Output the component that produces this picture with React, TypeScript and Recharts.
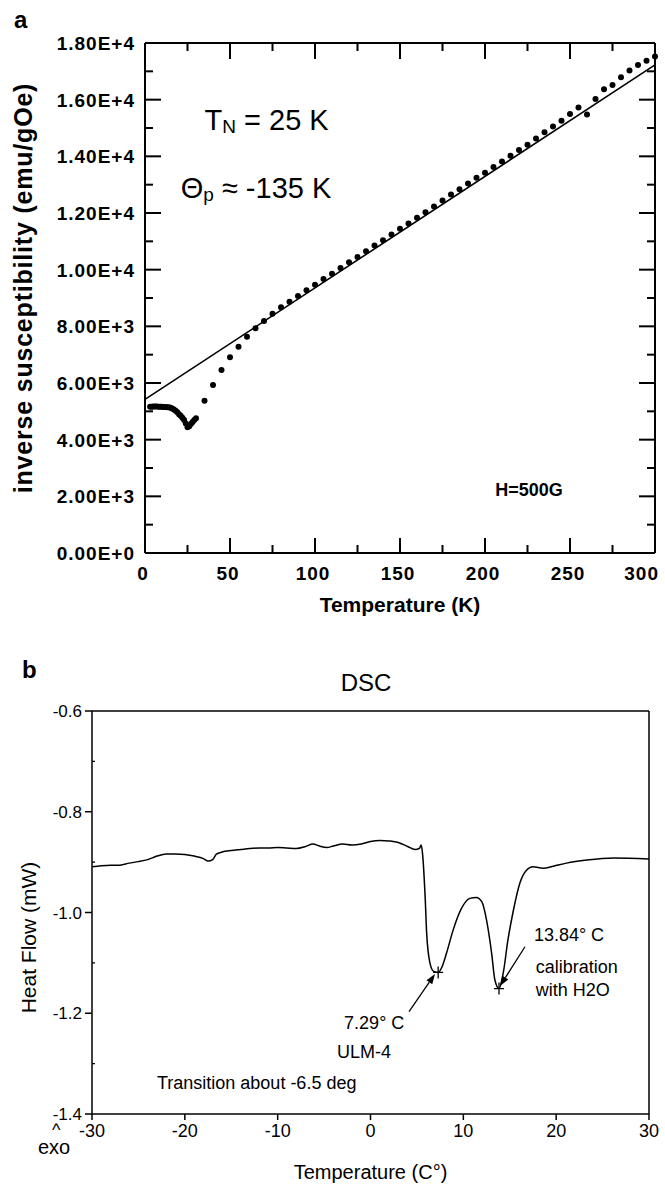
import React from 'react';
import {
  ComposedChart,
  Line,
  Scatter,
  XAxis,
  YAxis,
  ReferenceDot,
  ReferenceLine,
} from 'recharts';

const FONT = '"Liberation Sans", Arial, Helvetica, sans-serif';

// ---------- panel a: inverse susceptibility ----------
const lowTemp = [3, 4, 5, 6, 7, 8, 9, 10, 11, 12, 13, 14, 15, 16, 17, 18, 19, 20, 21, 22, 23, 24, 25, 26, 27, 28, 29, 30];
const lowChi = [
  5160, 5165, 5170, 5170, 5170, 5165, 5165, 5160, 5155, 5150, 5145, 5140, 5125, 5100,
  5065, 5020, 4965, 4900, 4840, 4770, 4690, 4570, 4440, 4470, 4550, 4620, 4690, 4760,
];
const highTemp = [
  35, 40, 45, 50, 55, 60, 65, 70, 75, 80, 85, 90, 95, 100, 105, 110, 115, 120, 125, 130,
  135, 140, 145, 150, 155, 160, 165, 170, 175, 180, 185, 190, 195, 200, 205, 210, 215, 220,
  225, 230, 235, 240, 245, 250, 255, 260, 265, 270, 275, 280, 285, 290, 295, 300,
];
const highChi = [
  5370, 5930, 6460, 6910, 7280, 7630, 7930, 8190, 8440, 8670, 8870, 9070, 9270, 9470, 9670,
  9860, 10060, 10260, 10450, 10650, 10850, 11040, 11240, 11440, 11630, 11830, 12030, 12230,
  12440, 12650, 12840, 13040, 13240, 13420, 13620, 13820, 14020, 14220, 14410, 14630, 14850,
  15050, 15260, 15490, 15720, 15480, 16020, 16370, 16520, 16790, 17030, 17220, 17370, 17520,
];
// Curie-Weiss fit line
const fitTemp = [0, 300];
const fitChi = [5420, 17230];

const aXTicks = [0, 25, 50, 75, 100, 125, 150, 175, 200, 225, 250, 275, 300];
const aXMajor = [0, 50, 100, 150, 200, 250, 300];
const aYTicks = [0, 1000, 2000, 3000, 4000, 5000, 6000, 7000, 8000, 9000, 10000, 11000, 12000, 13000, 14000, 15000, 16000, 17000, 18000];
const aYMajor = [0, 2000, 4000, 6000, 8000, 10000, 12000, 14000, 16000, 18000];
const aYLabels = ['0.00E+0', '2.00E+3', '4.00E+3', '6.00E+3', '8.00E+3', '1.00E+4', '1.20E+4', '1.40E+4', '1.60E+4', '1.80E+4'];

// ---------- panel b: DSC ----------
const dscTemp = [
  -30, -29, -28, -27, -26, -25, -24, -23, -22, -21, -20, -19, -18, -17.5, -17, -16.6, -16,
  -15, -14, -13, -12, -11, -10, -9, -8, -7, -6.2, -5.5, -4.7, -4, -3, -2, -1, 0, 1, 2, 3, 4,
  4.8, 5.3, 5.45, 5.6, 5.9, 6.05, 6.4, 6.8, 7.29, 7.7, 8.2, 8.9, 9.8, 10.7, 11.4, 12, 12.5,
  13.05, 13.4, 13.84, 14.3, 14.8, 15.4, 16.1, 16.8, 17.5, 18.6, 19.7, 21.1, 23.3, 26.2, 30,
];
const dscFlow = [
  -0.909, -0.907, -0.906, -0.906, -0.902, -0.899, -0.895, -0.888, -0.884, -0.884, -0.885,
  -0.888, -0.893, -0.898, -0.895, -0.884, -0.88, -0.877, -0.875, -0.873, -0.872, -0.872,
  -0.871, -0.872, -0.873, -0.869, -0.864, -0.868, -0.871, -0.868, -0.864, -0.866, -0.864,
  -0.859, -0.857, -0.858, -0.861, -0.869, -0.875, -0.872, -0.866, -0.882, -0.975, -1.041,
  -1.1, -1.117, -1.119, -1.108, -1.08, -1.035, -0.992, -0.972, -0.97, -0.979, -1.015, -1.081,
  -1.134, -1.151, -1.12, -1.055, -0.995, -0.941, -0.916, -0.909, -0.912, -0.908, -0.902,
  -0.896, -0.892, -0.894,
];
const bXTicks = [-30, -20, -10, 0, 10, 20, 30];
const bYMinor = [-1.3, -1.1, -0.9, -0.7];
const bYMajor = [-1.4, -1.2, -1.0, -0.8, -0.6];
const bYLabels = ['-1.4', '-1.2', '-1.0', '-0.8', '-0.6'];
const peakTemp = [7.29, 13.84];
const peakFlow = [-1.119, -1.151];

const aPoints = [
  ...lowTemp.map((t, i) => ({ t, chi: lowChi[i] })),
  ...highTemp.map((t, i) => ({ t, chi: highChi[i] })),
];
const aFit = fitTemp.map((t, i) => ({ t, chi: fitChi[i] }));
const dscData = dscTemp.map((t, i) => ({ t, flow: dscFlow[i] }));

const black = '#000';
const isBMajor = (v: number) => bYMajor.findIndex((m) => Math.abs(m - v) < 1e-6);

// inward tick marks of panel a, as scatter points on the axis lines
const aMarks = [
  ...aYTicks.map((v) => ({ t: 0, chi: v, dir: 'h', len: aYMajor.includes(v) ? 16 : 8 })),
  ...aYTicks.map((v) => ({ t: 300, chi: v, dir: 'h', len: aYMajor.includes(v) ? -16 : -8 })),
  ...aXTicks.map((t) => ({ t, chi: 0, dir: 'v', len: aXMajor.includes(t) ? -15 : -8 })),
  ...aXTicks.map((t) => ({ t, chi: 18000, dir: 'v', len: aXMajor.includes(t) ? 16 : 8 })),
];
// small inward minor marks of panel b
const bMarks = bYMinor.map((v) => ({ t: -30, flow: v, dir: 'h', len: 3 }));

const markShape = (w: number) => (p: any) => {
  const dir = p.dir ?? p.payload?.dir;
  const len = Number(p.len ?? p.payload?.len ?? 0);
  const cx = Number(p.cx);
  const cy = Number(p.cy);
  if (dir === 'h') {
    return <rect x={len > 0 ? cx : cx + len} y={cy - w / 2} width={Math.abs(len)} height={w} fill={black} />;
  }
  return <rect x={cx - w / 2} y={len > 0 ? cy : cy + len} width={w} height={Math.abs(len)} fill={black} />;
};

// ---- tick labels ----
const ALeftTick = (props: any) => {
  const { x, y, payload } = props;
  const i = aYMajor.indexOf(payload.value);
  if (i < 0) return <g />;
  return (
    <text x={Number(x) - 10} y={Number(y) + 7} textAnchor="end" fontSize={19} letterSpacing={1} fontWeight="bold" fontFamily={FONT} fill={black} stroke="none">
      {aYLabels[i]}
    </text>
  );
};
const ABottomTick = (props: any) => {
  const { x, y, payload } = props;
  if (aXMajor.indexOf(payload.value) < 0) return <g />;
  const last = payload.value === 300;
  return (
    <text
      x={Number(x) + (last ? 4 : -2)}
      y={Number(y) + 27}
      textAnchor={last ? 'end' : 'middle'}
      fontSize={19}
      letterSpacing={1}
      fontWeight="bold"
      fontFamily={FONT}
      fill={black}
      stroke="none"
    >
      {payload.value}
    </text>
  );
};
// panel b uses the built-in outward tick lines (7px left, 6px bottom)
const BLeftTick = (props: any) => {
  const { x, y, payload } = props;
  const i = isBMajor(payload.value);
  if (i < 0) return <g />;
  return (
    <text x={Number(x) - 3} y={Number(y) + 6} textAnchor="end" fontSize={17} fontFamily={FONT} fill={black} stroke="none">
      {bYLabels[i]}
    </text>
  );
};
const BBottomTick = (props: any) => {
  const { x, y, payload } = props;
  return (
    <text x={Number(x)} y={Number(y) + 17} textAnchor="middle" fontSize={18} fontFamily={FONT} fill={black} stroke="none">
      {payload.value}
    </text>
  );
};

const Arrow = (p: any) => {
  const x1 = Number(p.x1);
  const y1 = Number(p.y1);
  const x2 = Number(p.x2);
  const y2 = Number(p.y2);
  const a = Math.atan2(y2 - y1, x2 - x1);
  const L = 10;
  const W = 3.5;
  const bx = x2 - L * Math.cos(a);
  const by = y2 - L * Math.sin(a);
  const pts = `${x2},${y2} ${bx - W * Math.sin(a)},${by + W * Math.cos(a)} ${bx + W * Math.sin(a)},${by - W * Math.cos(a)}`;
  return (
    <g>
      <line x1={x1} y1={y1} x2={bx} y2={by} stroke={black} strokeWidth={1.3} />
      <polygon points={pts} fill={black} />
    </g>
  );
};

const Cross = (p: any) => (
  <path d={`M${p.cx - 5},${p.cy}h10M${p.cx},${p.cy - 6}v12`} stroke={black} strokeWidth={1.3} fill="none" />
);

const textAt = (content: React.ReactNode, size: number, anchor: string = 'start', weight: string = 'normal') =>
  (p: any) => (
    <text x={p.cx} y={p.cy} textAnchor={anchor} dominantBaseline="central" fontSize={size} fontWeight={weight} fontFamily={FONT} fill={black}>
      {content}
    </text>
  );

const yTitle = (value: string, cx: number, dyShift: number, size: number, bold: boolean, spacing = 0) => (props: any) => {
  const vb = props.viewBox;
  const cy = vb.y + vb.height / 2 + dyShift;
  return (
    <text
      x={cx}
      y={cy}
      transform={`rotate(-90, ${cx}, ${cy})`}
      textAnchor="middle"
      dominantBaseline="central"
      fontSize={size}
      letterSpacing={spacing}
      fontWeight={bold ? 'bold' : 'normal'}
      fontFamily={FONT}
      fill={black}
    >
      {value}
    </text>
  );
};

const abs = (left: number, top: number, extra: React.CSSProperties = {}): React.CSSProperties => ({
  position: 'absolute',
  left,
  top,
  fontFamily: FONT,
  color: black,
  lineHeight: 1,
  whiteSpace: 'nowrap',
  ...extra,
});

export default function App() {
  return (
    <div style={{ position: 'absolute', left: 0, top: 0, width: 665, height: 1186, background: '#fff' }}>
      <div style={abs(14, 8, { fontSize: 24, fontWeight: 'bold' })}>a</div>

      <div style={{ position: 'absolute', left: 0, top: 0 }}>
        <ComposedChart width={665} height={620} margin={{ top: 0, right: 0, bottom: 0, left: 0 }}>
          <XAxis
            xAxisId="b"
            dataKey="t"
            type="number"
            domain={[0, 300]}
            ticks={aXTicks}
            interval={0}
            height={67}
            tickSize={0}
            tickMargin={0}
            tickLine={false}
            tick={<ABottomTick />}
            axisLine={{ stroke: black, strokeWidth: 2 }}
            label={{ value: 'Temperature (K)', position: 'insideBottom', offset: 8, fontSize: 21, fontWeight: 'bold', fill: black, fontFamily: FONT }}
          />
          <XAxis
            xAxisId="t"
            orientation="top"
            dataKey="t"
            type="number"
            domain={[0, 300]}
            height={43}
            tick={false}
            tickLine={false}
            axisLine={{ stroke: black, strokeWidth: 2 }}
          />
          <YAxis
            yAxisId="l"
            type="number"
            domain={[0, 18000]}
            ticks={aYTicks}
            interval={0}
            width={145}
            tickSize={0}
            tickMargin={0}
            tickLine={false}
            tick={<ALeftTick />}
            axisLine={{ stroke: black, strokeWidth: 2 }}
            label={{ content: yTitle('inverse susceptibility  (emu/gOe)', 23, -10, 25, true, 0.8) }}
          />
          <YAxis
            yAxisId="r"
            orientation="right"
            type="number"
            domain={[0, 18000]}
            width={10}
            tick={false}
            tickLine={false}
            axisLine={{ stroke: black, strokeWidth: 2 }}
          />
          <Scatter
            xAxisId="b"
            yAxisId="l"
            data={aMarks}
            dataKey="chi"
            shape={markShape(2)}
            isAnimationActive={false}
          />
          <Line
            xAxisId="b"
            yAxisId="l"
            data={aFit}
            dataKey="chi"
            type="linear"
            stroke={black}
            strokeWidth={1.6}
            dot={false}
            activeDot={false}
            isAnimationActive={false}
          />
          <Scatter
            xAxisId="b"
            yAxisId="l"
            data={aPoints}
            dataKey="chi"
            fill={black}
            shape={(p: any) => <circle cx={p.cx} cy={p.cy} r={3} fill={black} />}
            isAnimationActive={false}
          />
          <ReferenceDot
            xAxisId="b"
            yAxisId="l"
            x={35}
            y={15280}
            r={0}
            shape={textAt(
              <>
                <tspan>T</tspan>
                <tspan fontSize={19} dy={6}>N</tspan>
                <tspan dy={-6}> = 25 K</tspan>
              </>,
              29,
            )}
          />
          <ReferenceDot
            xAxisId="b"
            yAxisId="l"
            x={21}
            y={12880}
            r={0}
            shape={textAt(
              <>
                <tspan>Θ</tspan>
                <tspan fontSize={19} dy={6}>p</tspan>
                <tspan dy={-6}> ≈ -135 K</tspan>
              </>,
              29,
            )}
          />
          <ReferenceDot xAxisId="b" yAxisId="l" x={206} y={2230} r={0} shape={textAt('H=500G', 18, 'start', 'bold')} />
        </ComposedChart>
      </div>

      <div style={abs(22, 658, { fontSize: 24, fontWeight: 'bold' })}>b</div>
      <div style={abs(366, 671, { fontSize: 24, transform: 'translateX(-50%)' })}>DSC</div>
      <div style={abs(38, 1121, { fontSize: 20, lineHeight: '17px' })}>
        <span style={{ fontSize: 18, marginLeft: 14 }}>^</span>
        <br />
        exo
      </div>

      <div style={{ position: 'absolute', left: 0, top: 620 }}>
        <ComposedChart width={665} height={566} data={dscData} margin={{ top: 0, right: 0, bottom: 0, left: 0 }}>
          <XAxis
            xAxisId="b"
            dataKey="t"
            type="number"
            domain={[-30, 30]}
            ticks={bXTicks}
            interval={0}
            height={72}
            tickSize={6}
            tickMargin={0}
            tickLine={{ stroke: black, strokeWidth: 1.5 }}
            tick={<BBottomTick />}
            axisLine={{ stroke: black, strokeWidth: 1.5 }}
            label={{ value: 'Temperature  (C°)', position: 'insideBottom', offset: 7, fontSize: 20, fill: black, fontFamily: FONT }}
          />
          <XAxis
            xAxisId="t"
            orientation="top"
            dataKey="t"
            type="number"
            domain={[-30, 30]}
            height={91}
            tick={false}
            tickLine={false}
            axisLine={{ stroke: black, strokeWidth: 1.5 }}
          />
          <YAxis
            yAxisId="l"
            type="number"
            domain={[-1.4, -0.6]}
            ticks={bYMajor}
            interval={0}
            width={92}
            tickSize={7}
            tickMargin={0}
            tickLine={{ stroke: black, strokeWidth: 1.5 }}
            tick={<BLeftTick />}
            axisLine={{ stroke: black, strokeWidth: 1.5 }}
            label={{ content: yTitle('Heat Flow  (mW)', 28, 25, 21, false) }}
          />
          <YAxis
            yAxisId="r"
            orientation="right"
            type="number"
            domain={[-1.4, -0.6]}
            width={16}
            tick={false}
            tickLine={false}
            axisLine={{ stroke: black, strokeWidth: 1.5 }}
          />
          <Scatter
            xAxisId="b"
            yAxisId="l"
            data={bMarks}
            dataKey="flow"
            shape={markShape(1.3)}
            isAnimationActive={false}
          />
          <Line
            xAxisId="b"
            yAxisId="l"
            dataKey="flow"
            type="monotone"
            stroke={black}
            strokeWidth={1.5}
            dot={false}
            activeDot={false}
            isAnimationActive={false}
          />
          <ReferenceLine xAxisId="b" yAxisId="l" segment={[{ x: 4.15, y: -1.197 }, { x: 6.95, y: -1.122 }]} shape={<Arrow />} />
          <ReferenceLine xAxisId="b" yAxisId="l" segment={[{ x: 16.64, y: -1.068 }, { x: 13.95, y: -1.146 }]} shape={<Arrow />} />
          {peakTemp.map((t, i) => (
            <ReferenceDot key={t} xAxisId="b" yAxisId="l" x={t} y={peakFlow[i]} r={0} shape={<Cross />} />
          ))}
          <ReferenceDot xAxisId="b" yAxisId="l" x={17.6} y={-1.045} r={0} shape={textAt(`${peakTemp[1]}° C`, 18)} />
          <ReferenceDot xAxisId="b" yAxisId="l" x={17.8} y={-1.108} r={0} shape={textAt('calibration', 18)} />
          <ReferenceDot xAxisId="b" yAxisId="l" x={17.8} y={-1.154} r={0} shape={textAt('with H2O', 18)} />
          <ReferenceDot xAxisId="b" yAxisId="l" x={0.4} y={-1.219} r={0} shape={textAt(`${peakTemp[0]}° C`, 18, 'middle')} />
          <ReferenceDot xAxisId="b" yAxisId="l" x={-0.7} y={-1.277} r={0} shape={textAt('ULM-4', 18, 'middle')} />
          <ReferenceDot xAxisId="b" yAxisId="l" x={-23} y={-1.338} r={0} shape={textAt('Transition about -6.5 deg', 18)} />
        </ComposedChart>
      </div>
    </div>
  );
}
